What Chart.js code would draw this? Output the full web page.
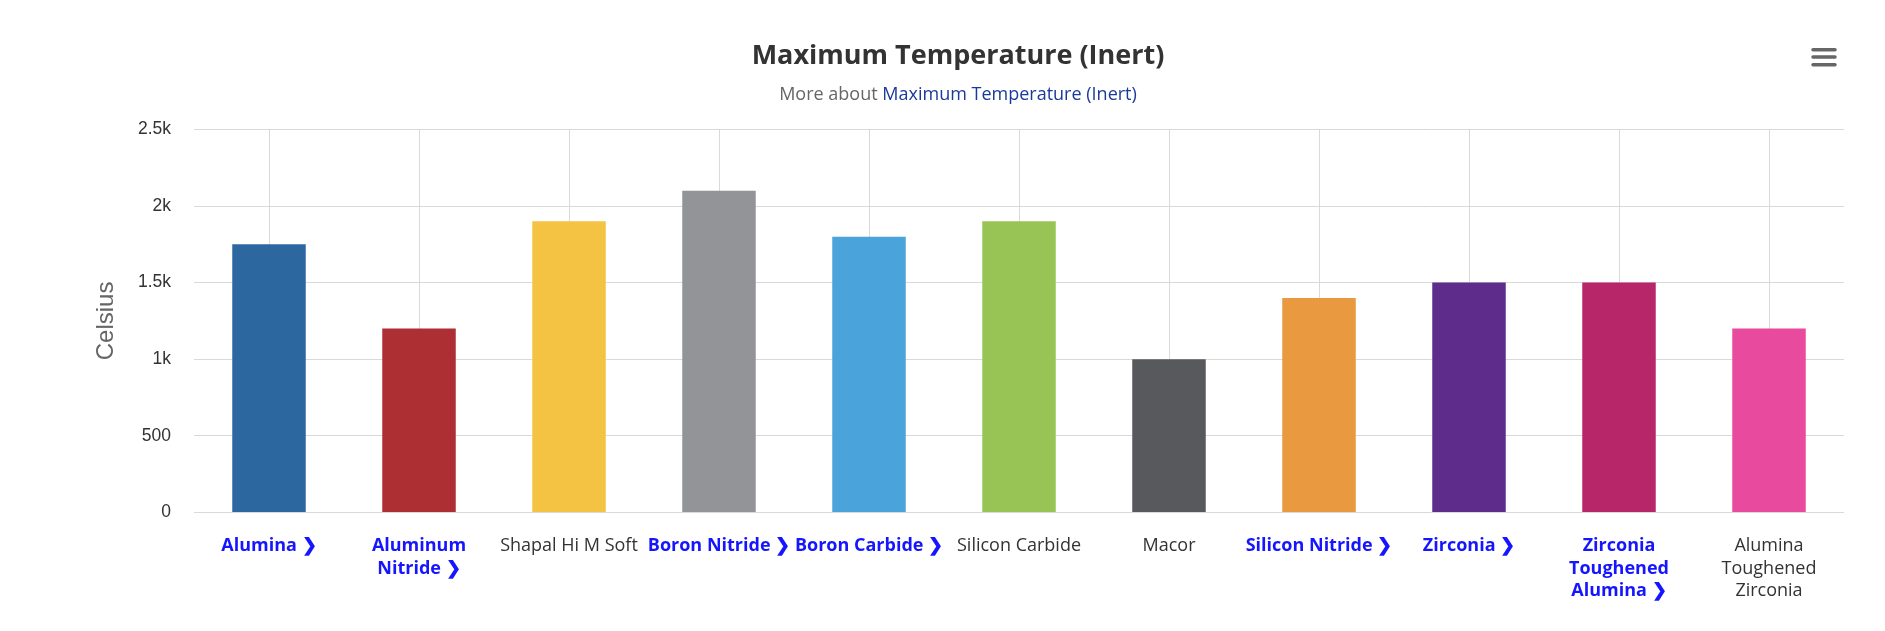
<!DOCTYPE html>
<html>
<head>
<meta charset="utf-8">
<script src="https://cdn.jsdelivr.net/npm/chart.js@4"></script>
<style>
  html, body { margin: 0; background: #fff; }
  #chart-wrap { width: 1885px; height: 631px; }
</style>
</head>
<body>
<div id="chart-wrap"><canvas id="max-temp-chart"></canvas></div>
<script>
// 재료 이름 (줄바꿈 포함)
const materialLabels = [
  ['Alumina ❯'],
  ['Aluminum', 'Nitride ❯'],
  ['Shapal Hi M Soft'],
  ['Boron Nitride ❯'],
  ['Boron Carbide ❯'],
  ['Silicon Carbide'],
  ['Macor'],
  ['Silicon Nitride ❯'],
  ['Zirconia ❯'],
  ['Zirconia', 'Toughened', 'Alumina ❯'],
  ['Alumina', 'Toughened', 'Zirconia']
];
// 링크가 걸린 라벨 (파란 굵은 글씨)
const linkedLabels = [true, true, false, true, true, false, false, true, true, true, false];
// 최대 온도 (Celsius)
const maxTemps = [1750, 1200, 1900, 2100, 1800, 1900, 1000, 1400, 1500, 1500, 1200];
const barColors = [
  '#2c67a0', '#ad2e33', '#f5c344', '#939497', '#4aa3db', '#98c455',
  '#58595d', '#e9993f', '#5e2d8b', '#b8266a', '#e84a9e'
];
const yMax = 2500;
const yStep = 500;

const chartTitle = 'Maximum Temperature (Inert)';
const subtitlePrefix = 'More about ';
const subtitleLink = 'Maximum Temperature (Inert)';

// 부제목(두 가지 색)과 메뉴 아이콘 그리기
const headerExtras = {
  id: 'headerExtras',
  afterDraw(chart) {
    const ctx = chart.ctx;
    const tb = chart.titleBlock;
    const cx = tb.left + tb.width / 2;
    ctx.save();
    ctx.font = '18px "Open Sans"';
    ctx.textBaseline = 'middle';
    ctx.textAlign = 'left';
    const w1 = ctx.measureText(subtitlePrefix).width;
    const w2 = ctx.measureText(subtitleLink).width;
    const x = cx - (w1 + w2) / 2;
    ctx.fillStyle = '#666666';
    ctx.fillText(subtitlePrefix, x, 95);
    ctx.fillStyle = '#1a3a9a';
    ctx.fillText(subtitleLink, x + w1, 95);

    // 햄버거 메뉴
    ctx.strokeStyle = '#666666';
    ctx.lineWidth = 3.5;
    ctx.lineCap = 'round';
    [49.7, 57, 64.7].forEach(y => {
      ctx.beginPath();
      ctx.moveTo(1813, y);
      ctx.lineTo(1835, y);
      ctx.stroke();
    });
    ctx.restore();
  }
};

const ctx = document.getElementById('max-temp-chart').getContext('2d');
new Chart(ctx, {
  type: 'bar',
  data: {
    labels: materialLabels,
    datasets: [{
      label: 'Celsius',
      data: maxTemps,
      backgroundColor: barColors,
      borderWidth: 0,
      categoryPercentage: 1.0,
      barPercentage: 0.49
    }]
  },
  options: {
    responsive: true,
    maintainAspectRatio: false,
    animation: false,
    layout: {
      padding: { left: 72, right: 41, top: 0, bottom: 6.5 }
    },
    plugins: {
      legend: { display: false },
      tooltip: { enabled: true },
      title: {
        display: true,
        text: chartTitle,
        color: '#333333',
        font: { family: '"Open Sans"', size: 27, weight: 'bold', lineHeight: 1.2 },
        padding: { top: 40, bottom: 57 }
      }
    },
    scales: {
      x: {
        grid: { color: '#d9d9d9', offset: false, drawTicks: false },
        border: { display: false },
        ticks: {
          autoSkip: false,
          maxRotation: 0,
          minRotation: 0,
          padding: 22,
          color: c => linkedLabels[c.index] ? '#1515ff' : '#333333',
          font: c => ({
            family: '"Open Sans"',
            size: 18,
            weight: linkedLabels[c.index] ? 'bold' : 'normal',
            lineHeight: 1.26
          })
        }
      },
      y: {
        min: 0,
        max: yMax,
        afterFit: scale => { scale.width = 122; },
        grid: { color: '#d9d9d9', drawTicks: false },
        border: { display: false },
        ticks: {
          stepSize: yStep,
          padding: 23,
          color: '#333333',
          font: { family: '"Liberation Sans"', size: 17.5 },
          callback: v => v >= 1000 ? (v / 1000) + 'k' : v
        },
        title: {
          display: true,
          text: 'Celsius',
          color: '#666666',
          font: { family: '"Liberation Sans"', size: 24 },
          padding: { top: 20, bottom: 0 }
        }
      }
    }
  },
  plugins: [headerExtras]
});
</script>
</body>
</html>
